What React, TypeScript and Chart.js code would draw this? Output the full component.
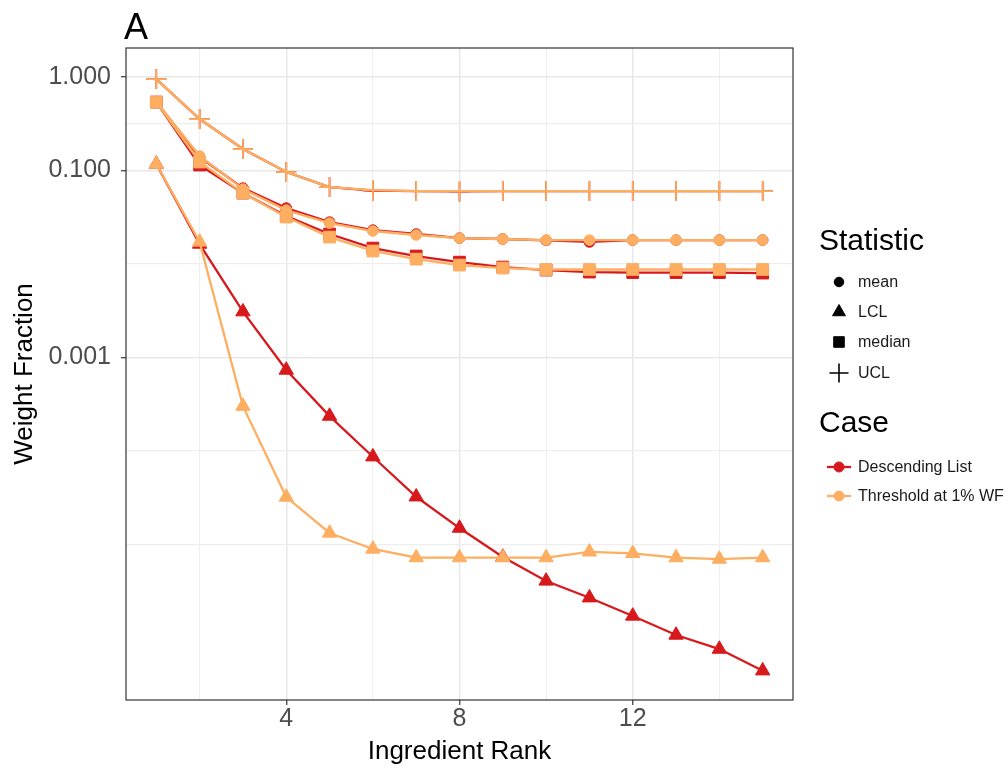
import React, { useEffect, useRef } from 'react';
import { Chart, registerables } from 'chart.js';

Chart.register(...registerables);

const FONT = "'Liberation Sans', Arial, Helvetica, sans-serif";

// ---- data ----
const ranks = [1, 2, 3, 4, 5, 6, 7, 8, 9, 10, 11, 12, 13, 14, 15];

const cases = ['Descending List', 'Threshold at 1% WF'];
const statistics = ['mean', 'LCL', 'median', 'UCL'];

// Descending List
const descMean = [0.536, 0.1384, 0.0645, 0.0394, 0.0279, 0.0229, 0.0208, 0.0188, 0.0184, 0.0178, 0.0171, 0.0179, 0.0179, 0.0179, 0.0179];
const descLCL = [0.1165, 0.01625, 0.00307, 0.00073, 0.000235, 0.0000863, 0.0000322, 0.0000149, 0.0000073, 0.00000405, 0.00000268, 0.00000171, 0.00000107, 0.000000757, 0.000000444];
const descMedian = [0.536, 0.1137, 0.057, 0.0324, 0.0208, 0.0147, 0.0121, 0.0104, 0.00922, 0.00857, 0.00815, 0.00805, 0.00805, 0.00805, 0.00795];
const descUCL = [0.945, 0.353, 0.1686, 0.0957, 0.0661, 0.0606, 0.0599, 0.0594, 0.0599, 0.0599, 0.0599, 0.0599, 0.0599, 0.0599, 0.0599];

// Threshold at 1% WF
const thrMean = [0.536, 0.142, 0.0629, 0.0375, 0.0272, 0.0224, 0.0203, 0.0188, 0.0184, 0.0179, 0.0179, 0.0179, 0.0179, 0.0179, 0.0179];
const thrLCL = [0.1165, 0.0171, 0.0003, 0.000032, 0.0000132, 0.0000089, 0.0000072, 0.0000072, 0.0000072, 0.0000072, 0.0000083, 0.000008, 0.0000072, 0.00000695, 0.0000072];
const thrMedian = [0.536, 0.1224, 0.057, 0.0316, 0.0193, 0.0137, 0.0112, 0.00968, 0.009, 0.00868, 0.00868, 0.00868, 0.00868, 0.00868, 0.00868];
const thrUCL = [0.945, 0.353, 0.1686, 0.0957, 0.0661, 0.0614, 0.0599, 0.0599, 0.0599, 0.0599, 0.0599, 0.0599, 0.0599, 0.0599, 0.0599];

// ---- ticks ----
const xTickValues = [2, 4, 6, 8, 10, 12, 14];
const xTickLabels = ['', '4', '', '8', '', '12', ''];
const yTickValues = [0.00001, 0.0001, 0.001, 0.01, 0.1, 0.3162, 1];
const yTickLabels = ['', '', '0.001', '', '0.100', '', '1.000'];

const caseValues = [
  [descMean, descLCL, descMedian, descUCL],
  [thrMean, thrLCL, thrMedian, thrUCL],
];

export default function App() {
  const ref = useRef<HTMLCanvasElement>(null);

  useEffect(() => {
    const caseColors = ['#D7191C', '#FDAE61'];
    const shapes = ['circle', 'triangle', 'rect', 'cross'];
    const radii = [5.3, 8.3, 8.3, 10];

    const datasets: any[] = [];
    caseValues.forEach((stats, ci) => {
      stats.forEach((vals, si) => {
        datasets.push({
          label: `${cases[ci]} ${statistics[si]}`,
          data: ranks.map((r, i) => ({ x: r, y: vals[i] })),
          borderColor: caseColors[ci],
          backgroundColor: caseColors[ci],
          borderWidth: 2.3,
          pointStyle: shapes[si],
          pointRadius: radii[si],
          pointBorderWidth: si === 3 ? 1.7 : 1,
          pointBackgroundColor: caseColors[ci],
          pointBorderColor: caseColors[ci],
          pointHoverRadius: radii[si],
          tension: 0,
          order: ci === 1 ? si : 4 + si,
        });
      });
    });

    const drawShape = (ctx: CanvasRenderingContext2D, shape: string, x: number, y: number, r: number, color: string) => {
      ctx.fillStyle = color;
      ctx.strokeStyle = color;
      ctx.lineWidth = 1;
      ctx.beginPath();
      if (shape === 'circle') {
        ctx.arc(x, y, r, 0, Math.PI * 2);
        ctx.fill();
        ctx.stroke();
      } else if (shape === 'triangle') {
        for (let k = 0; k < 3; k++) {
          const a = (k * 2 * Math.PI) / 3;
          const px = x + Math.sin(a) * r;
          const py = y - Math.cos(a) * r;
          if (k === 0) ctx.moveTo(px, py);
          else ctx.lineTo(px, py);
        }
        ctx.closePath();
        ctx.fill();
        ctx.stroke();
      } else if (shape === 'rect') {
        const s = Math.SQRT1_2 * r;
        ctx.rect(x - s, y - s, 2 * s, 2 * s);
        ctx.fill();
        ctx.stroke();
      } else if (shape === 'cross') {
        ctx.lineWidth = 1.6;
        ctx.moveTo(x - r, y);
        ctx.lineTo(x + r, y);
        ctx.moveTo(x, y - r);
        ctx.lineTo(x, y + r);
        ctx.stroke();
      }
    };

    const decorPlugin = {
      id: 'decor',
      afterDraw(chart: any) {
        const { ctx, chartArea: a } = chart;
        ctx.save();
        // panel border
        ctx.strokeStyle = '#333333';
        ctx.lineWidth = 1.2;
        ctx.strokeRect(a.left, a.top, a.right - a.left, a.bottom - a.top);
        // tag title
        ctx.fillStyle = '#000000';
        ctx.font = `36px ${FONT}`;
        ctx.textAlign = 'left';
        ctx.textBaseline = 'alphabetic';
        ctx.fillText('A', a.left - 2, 39);

        // legend
        const lx = a.right + 26;
        const kx = a.right + 46;
        const tx = a.right + 65;
        ctx.font = `30px ${FONT}`;
        ctx.fillText('Statistic', lx, 250);
        ctx.font = `16px ${FONT}`;
        ctx.textBaseline = 'middle';
        const statY = [282, 312, 342, 373];
        statistics.forEach((s, i) => {
          drawShape(ctx, shapes[i], kx, statY[i], radii[i] * (i === 3 ? 0.95 : 0.9), '#000000');
          ctx.fillStyle = '#1A1A1A';
          ctx.fillText(s, tx, statY[i] + 1);
        });
        ctx.textBaseline = 'alphabetic';
        ctx.fillStyle = '#000000';
        ctx.font = `30px ${FONT}`;
        ctx.fillText('Case', lx, 432);
        ctx.font = `16px ${FONT}`;
        ctx.textBaseline = 'middle';
        const caseY = [467, 496];
        cases.forEach((c, i) => {
          ctx.strokeStyle = caseColors[i];
          ctx.lineWidth = 2.3;
          ctx.beginPath();
          ctx.moveTo(kx - 12, caseY[i]);
          ctx.lineTo(kx + 12, caseY[i]);
          ctx.stroke();
          drawShape(ctx, 'circle', kx, caseY[i], 5, caseColors[i]);
          ctx.fillStyle = '#1A1A1A';
          ctx.fillText(c, tx, caseY[i] + 1);
        });
        ctx.restore();
      },
    };

    Chart.defaults.font.family = FONT;

    const chart = new Chart(ref.current as HTMLCanvasElement, {
      type: 'line',
      data: { datasets },
      options: {
        animation: false,
        responsive: true,
        maintainAspectRatio: false,
        layout: { padding: { top: 48, right: 215, bottom: 0, left: 0 } },
        plugins: {
          legend: { display: false },
          tooltip: { enabled: false },
          title: { display: false },
        },
        scales: {
          x: {
            type: 'linear',
            min: 0.3,
            max: 15.7,
            bounds: 'data',
            afterBuildTicks: (s: any) => {
              s.ticks = xTickValues.map((v) => ({ value: v }));
            },
            afterFit: (s: any) => {
              s.height = 70;
            },
            ticks: {
              autoSkip: false,
              maxRotation: 0,
              color: '#4D4D4D',
              font: { size: 25, lineHeight: 1 },
              padding: 2,
              callback: (_v: any, i: number) => xTickLabels[i],
            },
            grid: {
              color: (c: any) => (xTickLabels[c.index] ? '#E8E8E8' : '#EFEFEF'),
              lineWidth: (c: any) => (xTickLabels[c.index] ? 1.5 : 1.1),
              tickColor: (c: any) => (xTickLabels[c.index] ? '#333333' : 'rgba(0,0,0,0)'),
              tickLength: 5,
              tickWidth: 1.2,
            },
            border: { display: false },
            title: {
              display: true,
              text: 'Ingredient Rank',
              color: '#000000',
              font: { size: 26 },
              padding: { top: 0, bottom: 3 },
            },
          },
          y: {
            type: 'logarithmic',
            min: 2.16e-7,
            max: 2.03,
            bounds: 'data',
            afterBuildTicks: (s: any) => {
              s.ticks = yTickValues.map((v) => ({ value: v }));
            },
            afterFit: (s: any) => {
              s.width = 126;
            },
            ticks: {
              autoSkip: false,
              color: '#4D4D4D',
              font: { size: 25 },
              padding: 10,
              callback: (_v: any, i: number) => yTickLabels[i],
            },
            grid: {
              color: (c: any) => (yTickLabels[c.index] ? '#E8E8E8' : '#EEEEEE'),
              lineWidth: (c: any) => (yTickLabels[c.index] ? 1.5 : 1.2),
              tickColor: (c: any) => (yTickLabels[c.index] ? '#333333' : 'rgba(0,0,0,0)'),
              tickLength: 5,
              tickWidth: 1.2,
            },
            border: { display: false },
            title: {
              display: true,
              text: 'Weight Fraction',
              color: '#000000',
              font: { size: 26 },
              padding: { top: 9, bottom: 0 },
            },
          },
        },
      } as any,
      plugins: [decorPlugin],
    });
    return () => chart.destroy();
  }, []);

  return (
    <div style={{ position: 'absolute', left: 0, top: 0, width: 1008, height: 770, background: '#ffffff' }}>
      <canvas ref={ref} />
    </div>
  );
}
